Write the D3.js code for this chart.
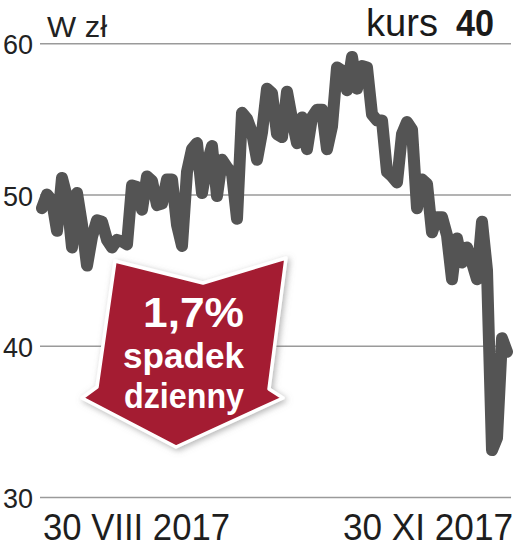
<!DOCTYPE html>
<html>
<head>
<meta charset="utf-8">
<script src="https://cdn.jsdelivr.net/npm/d3@7"></script>
<style>
  html, body { margin: 0; padding: 0; background: #fff; }
  svg { display: block; }
  text { font-family: "Liberation Sans", Arial, sans-serif; }
</style>
</head>
<body>
<script>
// ---- data ----
const prices = [
  49.1, 50.0, 49.6, 47.6, 51.1, 49.8, 46.5, 50.1, 48.0, 45.3,
  47.2, 48.3, 48.2, 47.0, 46.5, 47.0, 46.9, 46.7, 50.6, 50.5,
  49.0, 51.2, 50.9, 49.3, 49.4, 51.0, 51.0, 48.0, 46.6, 51.5,
  53.0, 53.4, 50.1, 52.0, 53.2, 49.9, 52.3, 51.8, 51.4, 48.4,
  55.4, 55.0, 54.1, 52.3, 54.1, 57.0, 56.7, 54.0, 53.8, 56.8,
  55.0, 53.4, 55.1, 53.0, 55.1, 55.6, 55.6, 53.0, 54.5, 58.4,
  58.2, 56.9, 59.1, 57.0, 58.5, 58.4, 55.3, 54.9, 54.9, 51.5,
  51.2, 50.8, 54.0, 54.8, 54.3, 49.1, 51.0, 50.7, 47.5, 48.5,
  48.5, 47.3, 44.4, 47.1, 45.5, 46.5, 45.5, 44.4, 48.2, 45.0,
  33.1, 33.9, 40.5, 39.6
];
const yTicks = [30, 40, 50, 60];
const dateLabels = ["30 VIII 2017", "30 XI 2017"];
const unitLabel = "W zł";
const titleLabel = "kurs";
const titleValue = "40";
const badgeLines = ["1,7%", "spadek", "dzienny"];

// ---- chart ----
const W = 516, H = 549;
const svg = d3.select("body").append("svg").attr("width", W).attr("height", H);

const defs = svg.append("defs");
const f = defs.append("filter").attr("id", "shadow")
  .attr("x", "-20%").attr("y", "-20%").attr("width", "140%").attr("height", "140%");
f.append("feDropShadow").attr("dx", 2).attr("dy", 2).attr("stdDeviation", 3)
  .attr("flood-color", "#777").attr("flood-opacity", 0.55);

const x = d3.scaleLinear().domain([0, prices.length - 1]).range([42, 507]);
const y = d3.scaleLinear().domain([30, 60]).range([497, 43.3]);

const gridLeft = 40, gridRight = 511;

// y axis with gridlines
const yAxis = d3.axisLeft(y).tickValues(yTicks).tickFormat(d3.format("d"))
  .tickSize(-(gridRight - gridLeft)).tickPadding(7);
const gy = svg.append("g").attr("transform", `translate(${gridLeft},0)`).call(yAxis);
gy.select(".domain").remove();
gy.selectAll(".tick line").attr("stroke", "#9a9a9a").attr("stroke-width", 1.6);
gy.selectAll(".tick text")
  .attr("fill", "#222").attr("font-size", 27).attr("dy", "0.39em")
  .style("font-family", "'Liberation Sans', Arial, sans-serif");

// unit & title
svg.append("text").attr("x", 47).attr("y", 37).attr("font-size", 29)
  .attr("fill", "#222").attr("textLength", 60).attr("lengthAdjust", "spacingAndGlyphs")
  .text(unitLabel);
svg.append("text").attr("x", 366).attr("y", 36).attr("font-size", 38)
  .attr("fill", "#1a1a1a").attr("textLength", 72).attr("lengthAdjust", "spacingAndGlyphs")
  .text(titleLabel);
svg.append("text").attr("x", 456).attr("y", 36).attr("font-size", 36)
  .attr("font-weight", "bold").attr("fill", "#1a1a1a")
  .attr("textLength", 38).attr("lengthAdjust", "spacingAndGlyphs")
  .text(titleValue);

// price line
const line = d3.line().x((d, i) => x(i)).y(d => y(d));
svg.append("path").datum(prices)
  .attr("d", line)
  .attr("fill", "none")
  .attr("stroke", "#545454")
  .attr("stroke-width", 12)
  .attr("stroke-linejoin", "round")
  .attr("stroke-linecap", "round");

// date labels
svg.append("text").attr("x", 43).attr("y", 540).attr("font-size", 36)
  .attr("fill", "#1e1e1e").attr("textLength", 187).attr("lengthAdjust", "spacingAndGlyphs")
  .text(dateLabels[0]);
svg.append("text").attr("x", 513).attr("y", 540).attr("font-size", 36)
  .attr("text-anchor", "end")
  .attr("fill", "#1e1e1e").attr("textLength", 170).attr("lengthAdjust", "spacingAndGlyphs")
  .text(dateLabels[1]);

// badge arrow (annotation)
const arrowShape = [[115,261],[203,283],[286,258],[269,389],[283,398],[176,447],[82,398],[97,387]];
svg.append("path")
  .attr("d", "M" + arrowShape.map(p => p.join(",")).join("L") + "Z")
  .attr("fill", "#a41c31")
  .attr("stroke", "#fff").attr("stroke-width", 3.5).attr("stroke-linejoin", "round")
  .attr("filter", "url(#shadow)");

const badge = svg.append("g").attr("fill", "#fff").attr("font-weight", "bold").attr("text-anchor", "end");
badge.append("text").attr("x", 244).attr("y", 327).attr("font-size", 42)
  .attr("textLength", 101).attr("lengthAdjust", "spacingAndGlyphs").text(badgeLines[0]);
badge.append("text").attr("x", 244).attr("y", 368).attr("font-size", 35)
  .attr("textLength", 121).attr("lengthAdjust", "spacingAndGlyphs").text(badgeLines[1]);
badge.append("text").attr("x", 244).attr("y", 408).attr("font-size", 35)
  .attr("textLength", 120).attr("lengthAdjust", "spacingAndGlyphs").text(badgeLines[2]);
</script>
</body>
</html>
